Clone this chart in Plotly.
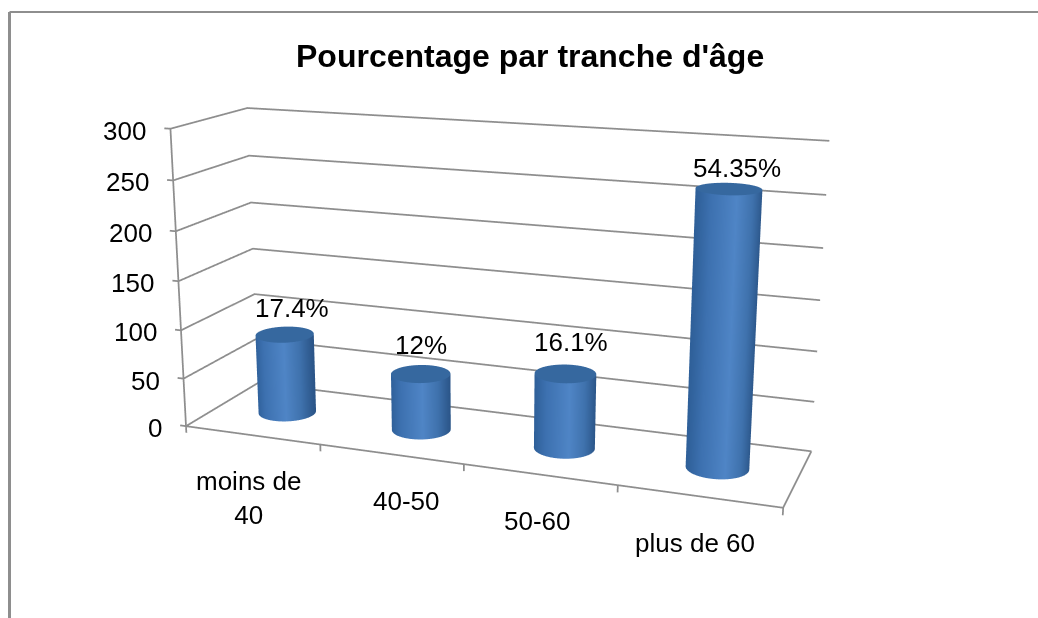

import numpy as np
import plotly.graph_objects as go

# ---- data
categories = ["moins de<br>40", "40-50", "50-60", "plus de 60"]
counts = [83, 58, 75, 264]
value_labels = ["17.4%", "12%", "16.1%", "54.35%"]
z_ticks = [0, 50, 100, 150, 200, 250, 300]
title_text = "Pourcentage par tranche d'âge"

# ---- layout constants (the page shows the part of the figure below TOP)
FIG_W, FIG_H = 1038, 1300
TOP = 348
SCENE_W = 968
GREY = "#8e8e8e"
FONT = "Liberation Sans, Arial, sans-serif"

aspect0 = np.array([1.9988, 0.4994, 1.0019])
eye0 = np.array([1.6887, -4.5427, 1.2689])
center0 = np.array([-0.0041, -0.0603, -0.0232])
up = dict(x=0.0017, y=0.0059, z=1.0)

xr = [-0.7, 3.7]
yr = [-0.1, 1.1]
zr = [-30, 330]
pad = np.array([(xr[1] - xr[0]) / 4, (yr[1] - yr[0]) / 1, (zr[1] - zr[0]) / 300])
aspect = aspect0 * pad
k = aspect.prod() ** (1 / 3)
aspect, eye, center = aspect / k, eye0 / k, center0 / k

fig = go.Figure()

def line(xs, ys, zs, width=3.5):
    fig.add_trace(go.Scatter3d(x=xs, y=ys, z=zs, mode="lines", hoverinfo="skip", showlegend=False,
                               line=dict(color=GREY, width=width)))

x0, x1 = -0.5, 3.5
for t in z_ticks:
    line([x0, x0, x1], [0, 1, 1], [t, t, t])
    line([x0 - 0.045, x0], [0, 0], [t, t])
line([x0, x0], [0, 0], [0, 300])
line([x0, x1, x1], [0, 0, 1], [0, 0, 0])
for c in np.arange(len(categories) + 1) - 0.5:
    line([c, c], [0, 0], [0, -7])

# ---- cylinders
world = aspect0 / np.array([4, 1, 300])
R = 0.098
rx, ry = R / world[0], R / world[1]
phi = np.arctan2(eye0[1], eye0[0])
theta = np.linspace(0, 2 * np.pi, 121)
side_scale = [[0, "#2f6099"], [0.18, "#3d71b0"], [0.55, "#4f85c6"], [0.8, "#3f72ad"], [1, "#2b5588"]]
flat = dict(ambient=1, diffuse=0, specular=0, fresnel=0)
for i, v in enumerate(counts):
    T, Z = np.meshgrid(theta, np.array([0.0, v]))
    fig.add_trace(go.Surface(x=i + rx * np.cos(T), y=0.5 + ry * np.sin(T), z=Z,
                             surfacecolor=(np.sin(T - phi) + 1) / 2, cmin=0, cmax=1,
                             colorscale=side_scale, showscale=False, hoverinfo="skip", lighting=flat))
    T2, Rr = np.meshgrid(theta, np.array([0.0, 1.0]))
    fig.add_trace(go.Surface(x=i + rx * Rr * np.cos(T2), y=0.5 + ry * Rr * np.sin(T2), z=np.full(T2.shape, float(v)),
                             surfacecolor=np.zeros(T2.shape), cmin=0, cmax=1,
                             colorscale=[[0, "#36689f"], [1, "#36689f"]], showscale=False, hoverinfo="skip",
                             lighting=flat))

# ---- labels
anns = []
label_font = dict(size=26, color="black", family=FONT)
for t in z_ticks:
    anns.append(dict(x=x0, y=0, z=t, text=str(t), showarrow=False, xanchor="right", xshift=-22, yshift=-2,
                     font=label_font))
cat_shift = [(-3, 63), (16, 47), (-2, 47), (-4, 47)]
for i, c in enumerate(categories):
    anns.append(dict(x=i, y=0, z=0, text=c, showarrow=False, xshift=cat_shift[i][0], yshift=-cat_shift[i][1],
                     font=label_font))
value_shift = [(7, 27), (0, 29), (6, 32), (8, 21)]
for i, (v, s) in enumerate(zip(counts, value_labels)):
    anns.append(dict(x=i, y=0.5, z=v, text=s, showarrow=False, xshift=value_shift[i][0], yshift=value_shift[i][1],
                     font=label_font))

def py(y):
    return 1 - (y + TOP) / FIG_H

axis = dict(visible=False, showspikes=False)
fig.update_layout(
    width=FIG_W, height=FIG_H, margin=dict(l=0, r=0, t=0, b=0, pad=0),
    paper_bgcolor="white", plot_bgcolor="white", showlegend=False,
    scene=dict(
        domain=dict(x=[0, SCENE_W / FIG_W], y=[0, 1]),
        xaxis=dict(range=xr, **axis), yaxis=dict(range=yr, **axis), zaxis=dict(range=zr, **axis),
        aspectmode="manual", aspectratio=dict(x=aspect[0], y=aspect[1], z=aspect[2]),
        camera=dict(eye=dict(x=eye[0], y=eye[1], z=eye[2]), center=dict(x=center[0], y=center[1], z=center[2]),
                    up=up, projection=dict(type="perspective")),
        annotations=anns,
    ),
    annotations=[dict(x=530 / FIG_W, y=py(56), xref="paper", yref="paper", text=title_text, showarrow=False,
                      xanchor="center", yanchor="middle",
                      font=dict(size=32, color="black", family=FONT, weight="bold"))],
    shapes=[
        dict(type="line", xref="paper", yref="paper", x0=9.5 / FIG_W, x1=1, y0=py(12), y1=py(12),
             line=dict(color=GREY, width=2)),
        dict(type="line", xref="paper", yref="paper", x0=9.5 / FIG_W, x1=9.5 / FIG_W, y0=py(12), y1=0,
             line=dict(color=GREY, width=3)),
    ],
)
shift_page = ("gd.style.position='absolute';gd.style.left='0px';gd.style.top='-%dpx';"
              "document.body.style.overflow='hidden';"
              % TOP).replace("gd", "document.getElementsByClassName('plotly-graph-div')[0]")
fig.write_html("out.html", config=dict(displayModeBar=False), post_script=shift_page)
